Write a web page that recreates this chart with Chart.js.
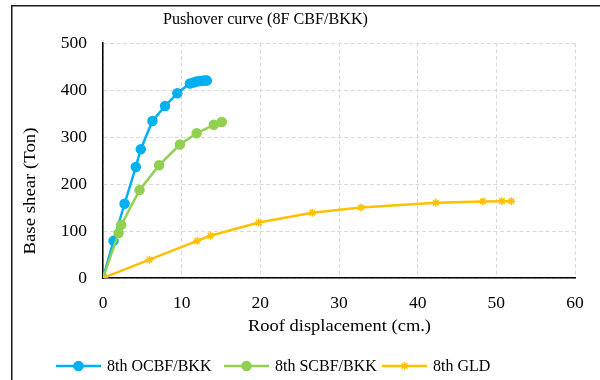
<!DOCTYPE html>
<html>
<head>
<meta charset="utf-8">
<script src="https://cdn.jsdelivr.net/npm/chart.js@4/dist/chart.umd.min.js"></script>
<style>
	html, body { margin: 0; padding: 0; background: #fff; }
	#wrap { position: absolute; left: 0; top: 0; width: 600px; height: 380px; }
</style>
</head>
<body>
<div id="wrap"><canvas id="chart" width="600" height="380"></canvas></div>
<script>
// roof displacement (cm.) / base shear (Ton)
const ocbfX = [0, 1.34, 2.74, 4.17, 4.8, 6.28, 7.89, 9.45, 11.05, 11.5, 11.9, 12.3, 12.7, 13.0, 13.2];
const ocbfY = [0, 79, 158, 236, 274, 334, 366, 393, 414, 416, 418, 419, 419.5, 420, 420];

const scbfX = [0, 1.98, 2.32, 4.64, 7.13, 9.78, 11.9, 14.09, 15.1];
const scbfY = [0, 95.5, 113, 187, 240, 284, 308, 326, 332];

const gldX = [0, 5.9, 11.98, 13.67, 19.8, 26.6, 32.8, 42.3, 48.3, 50.7, 51.9];
const gldY = [0, 39, 79, 90, 118, 139, 150, 160, 163, 163.5, 163.5];

const seriesNames = ['8th OCBF/BKK', '8th SCBF/BKK', '8th GLD'];
const seriesColors = ['#00B0F0', '#92D050', '#FFC000'];
const seriesMarkers = ['circle', 'circle', 'star'];
const xTicks = [0, 10, 20, 30, 40, 50, 60];
const yTicks = [0, 100, 200, 300, 400, 500];

const FONT = 'Liberation Serif, Times New Roman, serif';

function toPoints(xs, ys) {
	return xs.map((x, i) => ({ x: x, y: ys[i] }));
}

// texte etire comme dans l'image d'origine
function stretchedText(ctx, text, cx, cy, size, targetLen, angle) {
	ctx.save();
	ctx.font = size + 'px ' + FONT;
	const w = ctx.measureText(text).width;
	ctx.translate(cx, cy);
	ctx.rotate(angle);
	ctx.scale(targetLen / w, 1);
	ctx.textAlign = 'center';
	ctx.textBaseline = 'middle';
	ctx.fillStyle = '#000';
	ctx.fillText(text, 0, 0);
	ctx.restore();
}

// titre + titres d'axes + legende + cadre dessines a la main
const decorPlugin = {
	id: 'decor',
	afterDraw(chart) {
		const ctx = chart.ctx;
		ctx.save();
		// cadre du graphique (coupe a droite et en bas)
		ctx.strokeStyle = '#1a1a1a';
		ctx.lineWidth = 1.5;
		ctx.strokeRect(11.75, 5.75, 700, 500);

		stretchedText(ctx, 'Pushover curve (8F CBF/BKK)', 265.5, 20, 16, 205, 0);
		stretchedText(ctx, 'Roof displacement (cm.)', 339.5, 327, 17, 183, 0);
		stretchedText(ctx, 'Base shear (Ton)', 30.5, 191, 17, 127, -Math.PI / 2);

		// legende
		ctx.font = '16px ' + FONT;
		ctx.textAlign = 'left';
		ctx.textBaseline = 'middle';
		const y = 366;
		const lineStarts = [56, 224, 382];
		const lineLen = 45;
		seriesNames.forEach((name, i) => {
			const x = lineStarts[i];
			ctx.strokeStyle = seriesColors[i];
			ctx.fillStyle = seriesColors[i];
			ctx.lineWidth = 2.5;
			ctx.beginPath();
			ctx.moveTo(x, y);
			ctx.lineTo(x + lineLen, y);
			ctx.stroke();
			ctx.lineWidth = 1.5;
			Chart.helpers.drawPoint(ctx, {
				pointStyle: seriesMarkers[i],
				radius: seriesMarkers[i] === 'circle' ? 4.5 : 4,
				borderWidth: 1.5
			}, x + lineLen / 2, y);
			ctx.fillStyle = '#000';
			ctx.fillText(name, x + lineLen + 6, y + 1);
		});
		ctx.restore();
	}
};

function makeDataset(i, xs, ys) {
	return {
		label: seriesNames[i],
		data: toPoints(xs, ys),
		showLine: true,
		borderColor: seriesColors[i],
		backgroundColor: seriesColors[i],
		pointBackgroundColor: seriesColors[i],
		pointBorderColor: seriesColors[i],
		pointStyle: seriesMarkers[i],
		pointRadius: seriesMarkers[i] === 'circle' ? 4.5 : 4,
		pointBorderWidth: 1.5,
		borderWidth: 2.5
	};
}

const ctx = document.getElementById('chart').getContext('2d');
new Chart(ctx, {
	type: 'scatter',
	data: {
		// GLD dessine par-dessus, OCBF en dessous
		datasets: [
			makeDataset(2, gldX, gldY),
			makeDataset(1, scbfX, scbfY),
			makeDataset(0, ocbfX, ocbfY)
		]
	},
	options: {
		responsive: false,
		animation: false,
		layout: { padding: { left: 0, right: 25, top: 43, bottom: 42 } },
		plugins: {
			legend: { display: false },
			title: { display: false },
			tooltip: { enabled: false }
		},
		scales: {
			x: {
				type: 'linear',
				min: 0,
				max: 60,
				afterBuildTicks: axis => { axis.ticks = xTicks.map(v => ({ value: v })); },
				afterFit: axis => { axis.height = 60; },
				ticks: { color: '#000', padding: 15, font: { family: FONT, size: 17.5 } },
				grid: { color: '#d9d9d9', lineWidth: 1, drawTicks: false },
				border: { display: true, color: '#000', width: 1.5, dash: [4, 2.5] }
			},
			y: {
				type: 'linear',
				min: 0,
				max: 500,
				afterBuildTicks: axis => { axis.ticks = yTicks.map(v => ({ value: v })); },
				afterFit: axis => { axis.width = 103; },
				ticks: { color: '#000', padding: 16, font: { family: FONT, size: 17.5 } },
				grid: { color: '#d9d9d9', lineWidth: 1, drawTicks: false },
				border: { display: true, color: '#000', width: 1.5, dash: [4, 2.5] }
			}
		}
	},
	plugins: [decorPlugin]
});
</script>
</body>
</html>
